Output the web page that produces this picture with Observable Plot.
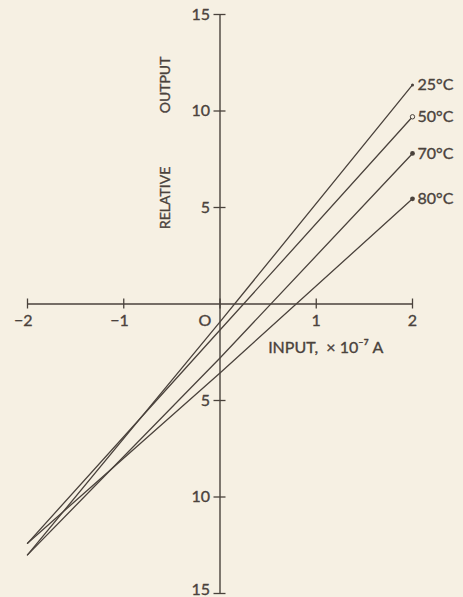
<!DOCTYPE html>
<html>
<head>
<meta charset="utf-8">
<script src="https://cdn.jsdelivr.net/npm/d3@7"></script>
<script src="https://cdn.jsdelivr.net/npm/@observablehq/plot@0.6"></script>
<style>
  html, body { margin: 0; padding: 0; background: #f6f0e3; }
  #chart svg { display: block; }
</style>
</head>
<body>
<div id="chart"></div>
<script>
// Relative output against input current, one straight response per temperature
const temps = ["25°C", "50°C", "70°C", "80°C"];
const inputs = [-2, 0, 2];               // input, × 10⁻⁷ A
const out25 = [-13.0, -0.93, 11.35];
const out50 = [-12.4, -1.35, 9.7];
const out70 = [-13.0, -2.8, 7.8];
const out80 = [-12.4, -3.57, 5.45];
const endSymbols = ["small", "open", "filled", "filled"];

const xTicks = [-2, -1, 0, 1, 2];
const yTicks = [-15, -10, -5, 5, 10, 15];

const outputs = [out25, out50, out70, out80];
const rows = temps.flatMap((t, k) =>
  inputs.map((x, i) => ({temp: t, x, y: outputs[k][i]}))
);
const ends = temps.map((t, k) => ({
  temp: t,
  x: inputs[inputs.length - 1],
  y: outputs[k][inputs.length - 1],
  sym: endSymbols[k]
}));

const ink = "#4a423c";
const paper = "#f6f0e3";
const font = "Lato, 'DejaVu Sans', sans-serif";
const yMin = d3.min(yTicks);
// printed lettering is a little heavier than the regular face
const type = {fill: ink, stroke: ink, strokeWidth: 0.35};

const chart = Plot.plot({
  width: 463,
  height: 597,
  marginLeft: 27,
  marginRight: 51,
  marginTop: 14,
  marginBottom: 4,
  style: {background: paper, color: ink, fontFamily: font},
  x: {domain: [d3.min(xTicks), d3.max(xTicks)], axis: null},
  y: {domain: [yMin, d3.max(yTicks)], axis: null},
  marks: [
    // crossed axes through the origin
    Plot.ruleY([0], {x1: d3.min(xTicks), x2: d3.max(xTicks), stroke: ink, strokeWidth: 1.4}),
    Plot.ruleX([0], {y1: yMin, y2: d3.max(yTicks), stroke: ink, strokeWidth: 1.4}),
    // cross ticks
    Plot.ruleX(xTicks, {x: d => d, y1: 0, y2: 0, insetTop: -5, insetBottom: -5, stroke: ink, strokeWidth: 1.3}),
    Plot.ruleY(yTicks, {y: d => d, x1: 0, x2: 0, insetLeft: -6, insetRight: -6, stroke: ink, strokeWidth: 1.3}),
    // x tick labels
    Plot.text(xTicks.filter(d => d < 0), {x: d => d, y: 0, text: d => "−" + Math.abs(d), textAnchor: "end", dx: 5, dy: 17, fontSize: 16, ...type}),
    Plot.text(xTicks.filter(d => d === 0), {x: d => d, y: 0, text: () => "O", dx: -15, dy: 17, fontSize: 16, ...type}),
    Plot.text(xTicks.filter(d => d > 0), {x: d => d, y: 0, text: d => String(d), dy: 17, fontSize: 16, ...type}),
    // y tick labels (the lowest one sits on the bottom edge)
    Plot.text(yTicks.filter(d => d !== yMin), {x: 0, y: d => d, text: d => String(Math.abs(d)), textAnchor: "end", dx: -10, fontSize: 16, ...type}),
    Plot.text(yTicks.filter(d => d === yMin), {x: 0, y: d => d, text: d => String(Math.abs(d)), textAnchor: "end", lineAnchor: "bottom", dx: -10, dy: 1, fontSize: 16, ...type}),
    // axis titles
    Plot.text(["OUTPUT"], {x: 0, y: 11.35, text: d => d, rotate: -90, dx: -54, fontSize: 14, letterSpacing: 0.5, ...type}),
    Plot.text(["RELATIVE"], {x: 0, y: 5.5, text: d => d, rotate: -90, dx: -54, fontSize: 14, letterSpacing: 3, ...type}),
    Plot.text(["INPUT,  × 10⁻⁷ A"], {x: 0.5, y: 0, text: d => d, textAnchor: "start", dy: 44, fontSize: 16, letterSpacing: 0.6, ...type}),
    // response lines
    Plot.line(rows, {x: "x", y: "y", z: "temp", stroke: ink, strokeWidth: 1.3}),
    // end markers
    Plot.dot(ends.filter(d => d.sym === "small"), {x: "x", y: "y", r: 1.5, fill: ink}),
    Plot.dot(ends.filter(d => d.sym === "open"), {x: "x", y: "y", r: 2.2, stroke: ink, strokeWidth: 1, fill: paper}),
    Plot.dot(ends.filter(d => d.sym === "filled"), {x: "x", y: "y", r: 2.4, fill: ink}),
    // temperature labels
    Plot.text(ends, {x: "x", y: "y", text: "temp", textAnchor: "start", dx: 5, fontSize: 16, ...type})
  ]
});

document.getElementById("chart").appendChild(chart);
</script>
</body>
</html>
